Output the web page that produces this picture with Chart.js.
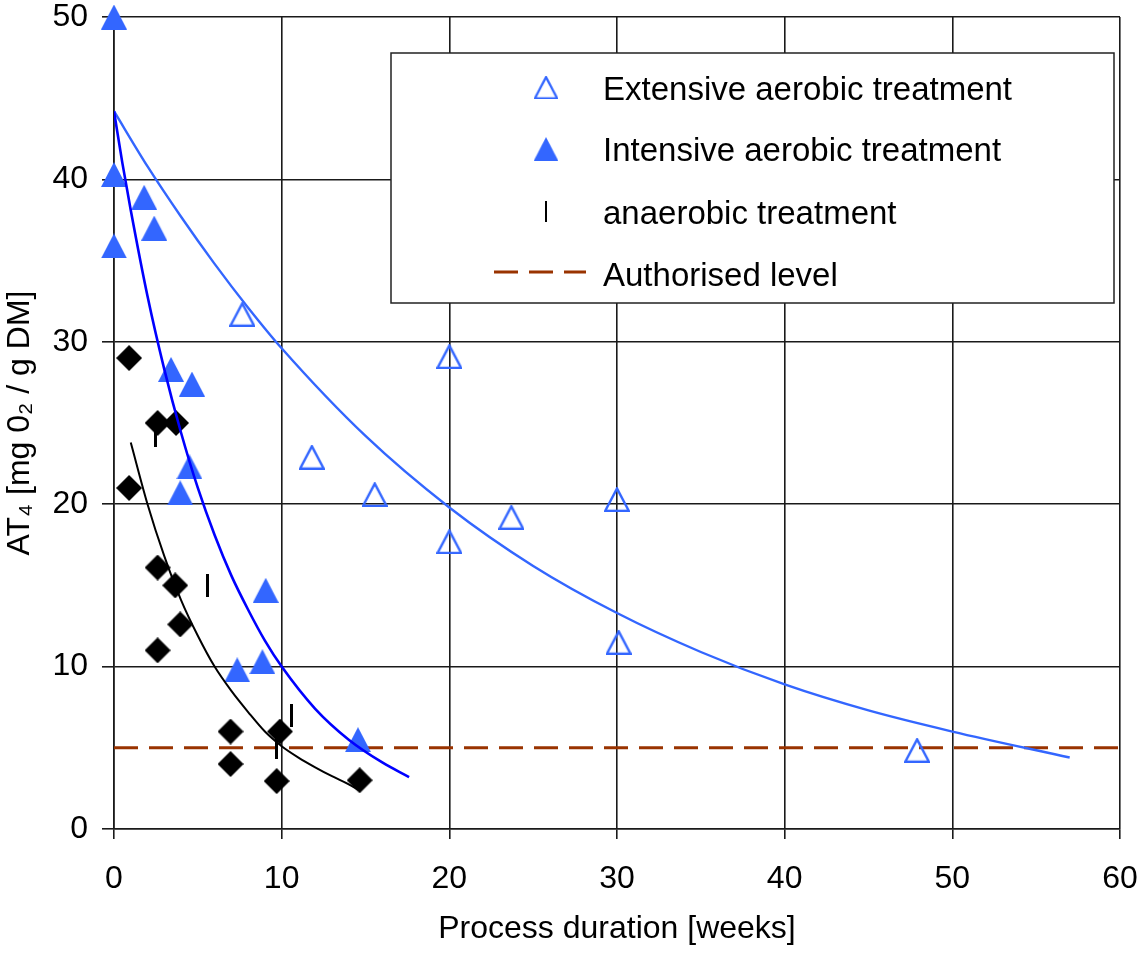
<!DOCTYPE html>
<html>
<head>
<meta charset="utf-8">
<script src="https://cdn.jsdelivr.net/npm/chart.js@4.4.0/dist/chart.umd.min.js"></script>
<style>
html,body{margin:0;padding:0;background:#fff;}
#wrap{width:1140px;height:953px;position:relative;}
</style>
</head>
<body>
<div id="wrap"><canvas id="c" width="1140" height="953"></canvas></div>
<script>
// ---------- data ----------
const xTickValues = [0, 10, 20, 30, 40, 50, 60];
const yTickValues = [0, 10, 20, 30, 40, 50];

// Extensive aerobic treatment (open triangles)
const extX = [7.65, 11.8, 15.55, 20.0, 20.0, 23.7, 30.0, 30.1, 47.9];
const extY = [31.7, 22.9, 20.6, 29.1, 17.7, 19.2, 20.3, 11.5, 4.85];

// Intensive aerobic treatment (filled triangles)
const intX = [0, 0, 0, 1.8, 2.4, 3.4, 4.65, 4.5, 3.95, 9.05, 7.35, 8.85, 14.55];
const intY = [50, 40.3, 35.9, 38.9, 37.0, 28.3, 27.4, 22.3, 20.7, 14.7, 9.8, 10.3, 5.5];

// Black diamonds (anaerobic data points)
const diaX = [0.9, 2.6, 3.7, 0.9, 2.6, 3.65, 3.95, 2.6, 6.95, 6.95, 9.9, 9.7, 14.65];
const diaY = [29.0, 25.0, 25.0, 21.0, 16.1, 15.0, 12.6, 11.0, 6.0, 4.0, 6.0, 2.95, 3.0];

// anaerobic treatment ("I" markers)
const anaX = [2.45, 5.6, 10.6, 9.7];
const anaY = [24.2, 15.0, 7.0, 5.0];

// Fitted curves
const extFitX = [0, 2, 4, 6, 8, 10, 15, 20, 25, 30, 35, 40, 45, 50, 57];
const extFitY = [44.2, 40.8, 37.7, 34.8, 32.1, 29.6, 24.2, 19.8, 16.2, 13.3, 10.9, 8.9, 7.3, 6.0, 4.4];

const intFitX = [0, 0.5, 1, 2, 3, 4, 5, 6, 7, 8, 9, 10, 12, 14, 16, 17.6];
const intFitY = [44.2, 41.0, 38.1, 32.8, 28.3, 24.4, 21.0, 18.1, 15.6, 13.5, 11.6, 10.0, 7.4, 5.5, 4.1, 3.2];

const anaFitX = [1, 2, 3, 4, 5, 6, 7, 8, 9, 10, 11, 12, 13, 14, 14.6];
const anaFitY = [23.8, 20.0, 16.8, 14.1, 11.9, 10.0, 8.5, 7.2, 6.0, 5.1, 4.4, 3.8, 3.25, 2.75, 2.4];

// Authorised level
const limitX = [0, 60];
const limitY = [5, 5];

const labels = {
  ext: 'Extensive aerobic treatment',
  int: 'Intensive aerobic treatment',
  ana: 'anaerobic treatment',
  lim: 'Authorised level',
  xTitle: 'Process duration [weeks]',
  yTitle: 'AT\u2084 [mg 0\u2082 / g DM]'
};

// ---------- styling ----------
const FONT = "'Liberation Sans', Arial, sans-serif";
const BLUE = '#3366FF';
const DARKBLUE = '#0000FF';
const BROWN = '#993300';

const pts = (xs, ys) => xs.map((x, i) => ({ x: x, y: ys[i] }));

function mk(w, h, draw) {
  const c = document.createElement('canvas');
  c.width = w; c.height = h;
  draw(c.getContext('2d'));
  return c;
}
const triFilled = mk(26, 25, g => {
  g.beginPath(); g.moveTo(13, 0); g.lineTo(26, 25); g.lineTo(0, 25); g.closePath();
  g.fillStyle = BLUE; g.fill();
});
const triOpen = mk(26, 25, g => {
  g.beginPath(); g.moveTo(13, 1.6); g.lineTo(24.8, 24); g.lineTo(1.2, 24); g.closePath();
  g.lineWidth = 2.4; g.strokeStyle = BLUE; g.stroke();
});
const diamond = mk(26, 26, g => {
  g.beginPath(); g.moveTo(13, 0); g.lineTo(26, 13); g.lineTo(13, 26); g.lineTo(0, 13); g.closePath();
  g.fillStyle = '#000'; g.fill();
});
const ibar = mk(3, 23, g => { g.fillStyle = '#000'; g.fillRect(0, 0, 3, 23); });

const legendPlugin = {
  id: 'boxLegend',
  afterDraw(chart) {
    const ctx = chart.ctx;
    const L = 391, T = 53, R = 1114, B = 303;
    ctx.save();
    ctx.fillStyle = '#fff';
    ctx.fillRect(L, T, R - L, B - T);
    ctx.lineWidth = 1.5;
    ctx.strokeStyle = '#222';
    ctx.strokeRect(L, T, R - L, B - T);
    const rows = [87.5, 149, 211.5, 274];
    const items = chart.data.datasets.filter(d => d.legend);
    items.sort((a, b) => a.legend - b.legend);
    ctx.font = '33px ' + FONT;
    ctx.textBaseline = 'alphabetic';
    items.forEach((d, i) => {
      const y = rows[i];
      if (d.pointStyle instanceof HTMLCanvasElement) {
        const im = d.pointStyle;
        const s = 0.95;
        ctx.drawImage(im, 546 - im.width * s / 2, y - im.height * s / 2, im.width * s, im.height * s);
      } else {
        ctx.save();
        ctx.strokeStyle = d.borderColor;
        ctx.lineWidth = d.borderWidth;
        ctx.setLineDash(d.borderDash || []);
        ctx.beginPath();
        ctx.moveTo(494, y - 2); ctx.lineTo(586, y - 2);
        ctx.stroke();
        ctx.restore();
      }
      ctx.fillStyle = '#000';
      ctx.fillText(d.label, 603, y + 12);
    });
    ctx.restore();
  }
};

const markerDs = (label, xs, ys, img, legend) => ({
  type: 'scatter',
  label: label,
  data: pts(xs, ys),
  pointStyle: img,
  pointRadius: 13,
  pointHoverRadius: 13,
  showLine: false,
  clip: false,
  legend: legend
});
const lineDs = (label, xs, ys, color, width, legend, dash) => ({
  type: 'scatter',
  label: label,
  data: pts(xs, ys),
  showLine: true,
  borderColor: color,
  backgroundColor: color,
  borderWidth: width,
  borderDash: dash || [],
  pointRadius: 0,
  pointHoverRadius: 0,
  cubicInterpolationMode: 'monotone',
  fill: false,
  legend: legend
});

const datasets = [
  lineDs('fit intensive', intFitX, intFitY, DARKBLUE, 2.6, 0),
  lineDs('fit anaerobic', anaFitX, anaFitY, '#000', 2, 0),
  lineDs('fit extensive', extFitX, extFitY, BLUE, 2.4, 0),
  markerDs(labels.ana, anaX, anaY, ibar, 3),
  markerDs('anaerobic data', diaX, diaY, diamond, 0),
  markerDs(labels.int, intX, intY, triFilled, 2),
  markerDs(labels.ext, extX, extY, triOpen, 1),
  lineDs(labels.lim, limitX, limitY, BROWN, 3, 4, [24, 11])
];

const tickFont = { family: FONT, size: 32, lineHeight: 1.2 };

new Chart(document.getElementById('c'), {
  type: 'scatter',
  data: { datasets: datasets },
  options: {
    responsive: false,
    animation: false,
    events: [],
    layout: { padding: { top: 17, right: 20, left: 0, bottom: 0 } },
    plugins: { legend: { display: false }, tooltip: { enabled: false } },
    scales: {
      x: {
        type: 'linear', min: 0, max: 60,
        afterBuildTicks: s => { s.ticks = xTickValues.map(v => ({ value: v })); },
        afterFit: s => { s.height = 124; s.paddingLeft = 0; s.paddingRight = 0; },
        ticks: { color: '#000', font: tickFont, padding: 21, maxRotation: 0 },
        grid: { color: '#1a1a1a', lineWidth: 1.6, tickLength: 10, drawTicks: true },
        border: { display: true, color: '#1a1a1a', width: 1.6 },
        title: { display: true, text: labels.xTitle, color: '#000', font: { family: FONT, size: 32, lineHeight: 1.2 }, padding: { top: 0, bottom: 5 } }
      },
      y: {
        type: 'linear', min: 0, max: 50,
        afterBuildTicks: s => { s.ticks = yTickValues.map(v => ({ value: v })); },
        afterFit: s => { s.width = 114; s.paddingTop = 0; s.paddingBottom = 0; },
        ticks: { color: '#000', font: tickFont, padding: 14 },
        grid: { color: '#1a1a1a', lineWidth: 1.6, tickLength: 12, drawTicks: true },
        border: { display: true, color: '#1a1a1a', width: 1.6 },
        title: { display: true, text: labels.yTitle, color: '#000', font: { family: FONT, size: 32, lineHeight: 1.2 }, padding: { top: 1, bottom: 0 } }
      }
    }
  },
  plugins: [legendPlugin]
});
</script>
</body>
</html>
